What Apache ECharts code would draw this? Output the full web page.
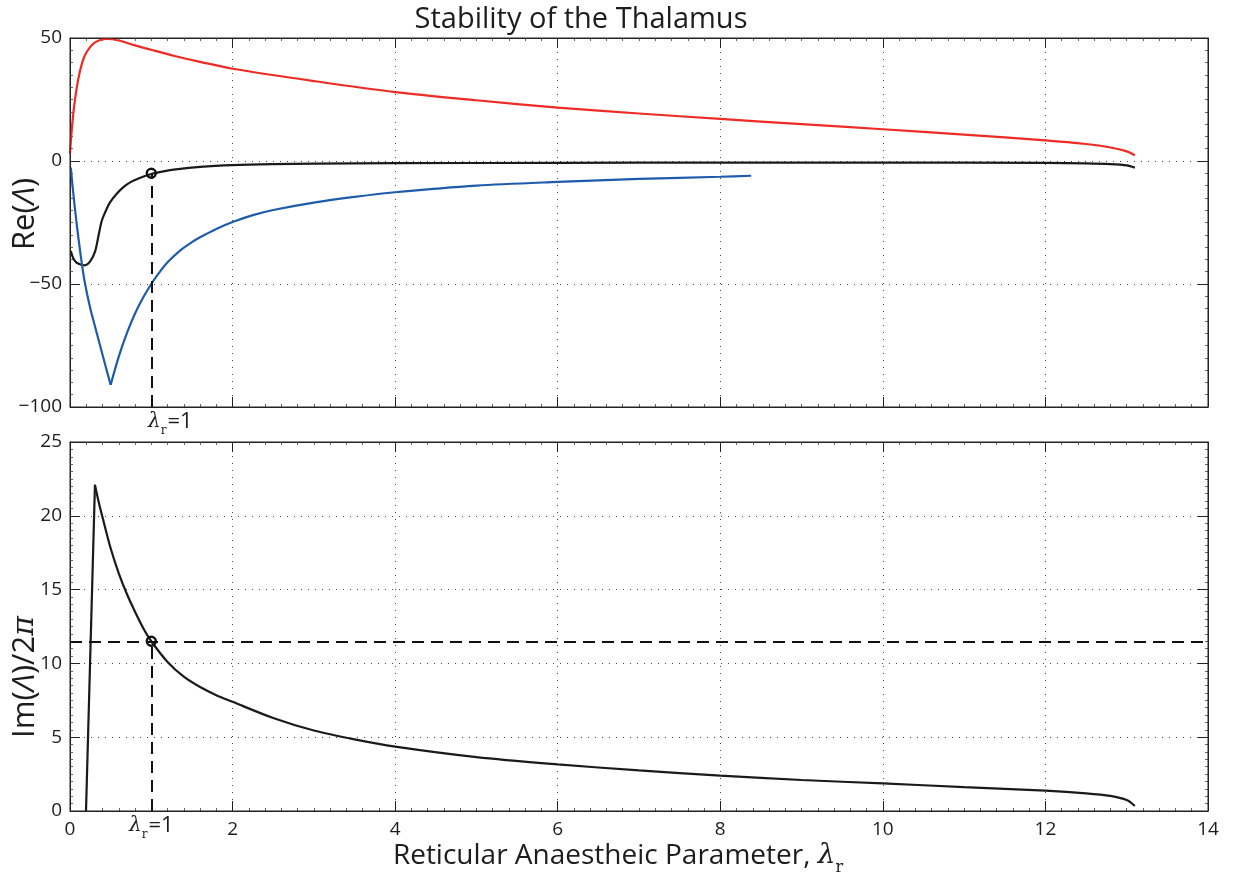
<!DOCTYPE html>
<html><head><meta charset="utf-8">
<script src="https://cdn.jsdelivr.net/npm/echarts@6/dist/echarts.min.js"></script>
<style>html,body{margin:0;padding:0;background:#fff}#c{width:1233px;height:877px}</style>
</head><body><div id="c"></div>
<script>
// ---------- data ----------
const titleText = 'Stability of the Thalamus';
const xMin = 0, xMax = 14, xStep = 2;
const reMin = -100, reMax = 50, reStep = 50;
const imMin = 0, imMax = 25, imStep = 5;

// Re(Λ) – red branch
const redX = [0, 0.02, 0.05, 0.1, 0.15, 0.2, 0.3, 0.45, 0.6, 0.8, 1.0, 1.3, 1.6, 2, 3, 4, 5, 6, 7, 8, 9, 10, 11, 12, 12.5, 12.8, 13.0, 13.1];
const redY = [3, 12, 22, 33, 40, 44, 48, 49.6, 49, 47, 45.2, 42.6, 40.3, 37.5, 32.5, 28, 24.7, 21.7, 19.3, 17.1, 15, 12.9, 10.7, 8.4, 6.9, 5.5, 3.9, 2.3];
// Re(Λ) – black branch
const blackReX = [0.01, 0.04, 0.08, 0.13, 0.18, 0.25, 0.31, 0.35, 0.39, 0.44, 0.49, 0.57, 0.65, 0.75, 0.85, 1.0, 1.15, 1.3, 1.6, 2, 2.5, 3, 4, 6, 8, 10, 12, 12.5, 12.8, 13.0, 13.1];
const blackReY = [-36.6, -39.5, -41.3, -42.1, -42.4, -40.7, -36.6, -30.5, -24.4, -20.3, -16.9, -13.5, -10.8, -8.5, -7, -5.3, -4.2, -3.4, -2.4, -1.7, -1.3, -1.1, -0.9, -0.75, -0.65, -0.65, -0.8, -1.0, -1.3, -1.8, -2.7];
// Re(Λ) – blue branch (falling part, then rising part)
const blueDownX = [0.01, 0.04, 0.08, 0.13, 0.18, 0.25, 0.33, 0.41, 0.5];
const blueDownY = [-2.7, -13, -25, -38, -49, -60, -70, -80, -91];
const blueUpX = [0.5, 0.6, 0.7, 0.8, 0.9, 1.0, 1.1, 1.2, 1.35, 1.5, 1.6, 1.8, 2.0, 2.25, 2.5, 3.0, 3.5, 4.0, 5.0, 6.0, 7.0, 8.0, 8.38];
const blueUpY = [-91, -79.5, -70, -62, -55.5, -50, -45.3, -41.2, -36.5, -33, -31, -27.6, -24.8, -22, -19.9, -16.9, -14.6, -12.7, -10, -8.5, -7.3, -6.4, -6.0];
// Im(Λ)/2π (rising part, then decaying part)
const imRiseX = [0.197, 0.307];
const imRiseY = [0, 22.1];
const imDecayX = [0.307, 0.35, 0.4, 0.5, 0.6, 0.7, 0.8, 0.9, 1.0, 1.2, 1.4, 1.6, 1.8, 2.0, 2.5, 3, 3.5, 4, 5, 6, 7, 8, 9, 10, 11, 12, 12.5, 12.8, 13.0, 13.1];
const imDecayY = [22.1, 21.0, 19.9, 17.8, 16.1, 14.7, 13.5, 12.4, 11.5, 10.1, 9.1, 8.4, 7.85, 7.4, 6.3, 5.45, 4.85, 4.36, 3.65, 3.16, 2.75, 2.4, 2.1, 1.87, 1.62, 1.38, 1.2, 1.02, 0.74, 0.34];

// critical point λr = 1
const critLambda = 1;
const critRe = -5;
const critIm = 11.5;

// ---------- chart ----------
const pairs = (xs, ys) => xs.map((x, i) => [x, ys[i]]);
const FONT = 'Open Sans';
const AX = '#222';
const TXT = '#1d1d1d';
const minus = v => String(v).replace('-', '\u2212');

const lamRich = {
  lam: { fontFamily: 'DejaVu Serif', fontStyle: 'italic', fontSize: 20, color: TXT, lineHeight: 30 },
  sub: { fontFamily: 'DejaVu Serif', fontSize: 12, color: TXT, verticalAlign: 'bottom', lineHeight: 30 },
  num: { fontFamily: FONT, fontSize: 22, color: TXT, lineHeight: 30, padding: [0, 0, 0, 1] }
};
const lamText = () => '{lam|λ}{sub|r}{num|=1}';

function xAx(grid, pos, labels) {
  return {
    type: 'value', gridIndex: grid, position: pos, min: xMin, max: xMax, interval: xStep,
    axisLine: { show: true, onZero: false, lineStyle: { color: AX, width: 1 } },
    axisTick: { show: true, inside: true, length: 10, lineStyle: { color: AX } },
    minorTick: { show: true, splitNumber: 10, length: 3, lineStyle: { color: '#666' } },
    axisLabel: { show: labels, fontFamily: FONT, fontSize: 19, color: TXT, margin: 9 },
    splitLine: { show: pos === 'bottom', lineStyle: { type: [1, 6], color: '#444', width: 1 } }
  };
}
function yAx(grid, pos, min, max, step) {
  return {
    type: 'value', gridIndex: grid, position: pos, min: min, max: max, interval: step,
    axisLine: { show: true, onZero: false, lineStyle: { color: AX, width: 1 } },
    axisTick: { show: true, inside: true, length: 10, lineStyle: { color: AX } },
    minorTick: { show: true, splitNumber: 10, length: 3, lineStyle: { color: '#666' } },
    axisLabel: { show: pos === 'left', fontFamily: FONT, fontSize: 19, color: TXT, margin: 8, formatter: minus },
    splitLine: { show: pos === 'left', lineStyle: { type: [1, 6], color: '#444', width: 1 } }
  };
}

const chart = echarts.init(document.getElementById('c'), null, { renderer: 'canvas' });
const dash = { type: [12, 7], width: 2, color: '#111' };
const lineS = (xi, yi, data, color) => ({
  type: 'line', xAxisIndex: xi, yAxisIndex: yi, data: data, showSymbol: false,
  smooth: 0.3, lineStyle: { color: color, width: 2.2 }, z: 3
});
const ring = { color: 'rgba(255,255,255,0)', borderColor: '#111', borderWidth: 2.4, opacity: 1 };

chart.setOption({
  animation: false,
  backgroundColor: '#fff',
  grid: [
    { left: 70, right: 25, top: 38, height: 369, show: false },
    { left: 70, right: 25, top: 442, height: 369, show: false }
  ],
  xAxis: [xAx(0, 'bottom', false), xAx(0, 'top', false), xAx(1, 'bottom', true), xAx(1, 'top', false)],
  yAxis: [yAx(0, 'left', reMin, reMax, reStep), yAx(0, 'right', reMin, reMax, reStep),
          yAx(1, 'left', imMin, imMax, imStep), yAx(1, 'right', imMin, imMax, imStep)],
  series: [
    lineS(0, 0, pairs(redX, redY), '#ee2b24'),
    lineS(0, 0, pairs(blackReX, blackReY), '#1a1a1a'),
    lineS(0, 0, pairs(blueDownX, blueDownY), '#1f5bab'),
    lineS(0, 0, pairs(blueUpX, blueUpY), '#1f5bab'),
    { type: 'scatter', xAxisIndex: 0, yAxisIndex: 0, data: [[critLambda, critRe]], symbol: 'circle', symbolSize: 9,
      itemStyle: ring, z: 5,
      markLine: { silent: true, symbol: ['none', 'none'], lineStyle: dash,
        label: { show: true, position: 'start', distance: 0, offset: [19, 0], formatter: lamText, rich: lamRich },
        data: [[{ coord: [critLambda, reMin] }, { coord: [critLambda, critRe] }]] } },
    lineS(2, 2, pairs(imRiseX, imRiseY), '#1a1a1a'),
    lineS(2, 2, pairs(imDecayX, imDecayY), '#1a1a1a'),
    { type: 'scatter', xAxisIndex: 2, yAxisIndex: 2, data: [[critLambda, critIm]], symbol: 'circle', symbolSize: 9,
      itemStyle: ring, z: 5,
      markLine: { silent: true, symbol: ['none', 'none'], lineStyle: dash,
        data: [
          [{ coord: [critLambda, imMin], label: { show: true, position: 'start', distance: 0, formatter: lamText, rich: lamRich } },
           { coord: [critLambda, critIm] }],
          { yAxis: critIm, label: { show: false } }
        ] } }
  ],
  graphic: [
    { type: 'rect', shape: { x: 70, y: 38, width: 1138, height: 369 }, style: { fill: 'none', stroke: AX, lineWidth: 1 }, silent: true, z: 10 },
    { type: 'rect', shape: { x: 70, y: 442, width: 1138, height: 369 }, style: { fill: 'none', stroke: AX, lineWidth: 1 }, silent: true, z: 10 },
    { type: 'text', x: 581, y: 20, style: { text: titleText, fontFamily: FONT, fontSize: 29, fill: TXT, align: 'center', verticalAlign: 'middle' } },
    { type: 'text', x: 25, y: 214, rotation: Math.PI / 2,
      style: { text: '{a|Re(}{b|Λ}{a|)}', align: 'center', verticalAlign: 'middle',
        rich: { a: { fontFamily: FONT, fontSize: 31, fill: TXT }, b: { fontFamily: FONT, fontStyle: 'italic', fontSize: 31, fill: TXT } } } },
    { type: 'text', x: 25, y: 677, rotation: Math.PI / 2,
      style: { text: '{a|Im(}{b|Λ}{a|)/2}{c|π}', align: 'center', verticalAlign: 'middle',
        rich: { a: { fontFamily: FONT, fontSize: 31, fill: TXT }, b: { fontFamily: FONT, fontStyle: 'italic', fontSize: 31, fill: TXT },
                c: { fontFamily: 'DejaVu Serif', fontStyle: 'italic', fontSize: 30, fill: TXT } } } },
    { type: 'text', x: 618, y: 856,
      style: { text: '{a|Reticular Anaestheic Parameter, }{l|λ}{s|r}', align: 'center', verticalAlign: 'middle',
        rich: { a: { fontFamily: FONT, fontSize: 28, fill: TXT, lineHeight: 40 },
                l: { fontFamily: 'DejaVu Serif', fontStyle: 'italic', fontSize: 28, fill: TXT, lineHeight: 40 },
                s: { fontFamily: 'DejaVu Serif', fontSize: 16, fill: TXT, lineHeight: 40, verticalAlign: 'bottom' } } } }
  ]
});
</script>
</body></html>
